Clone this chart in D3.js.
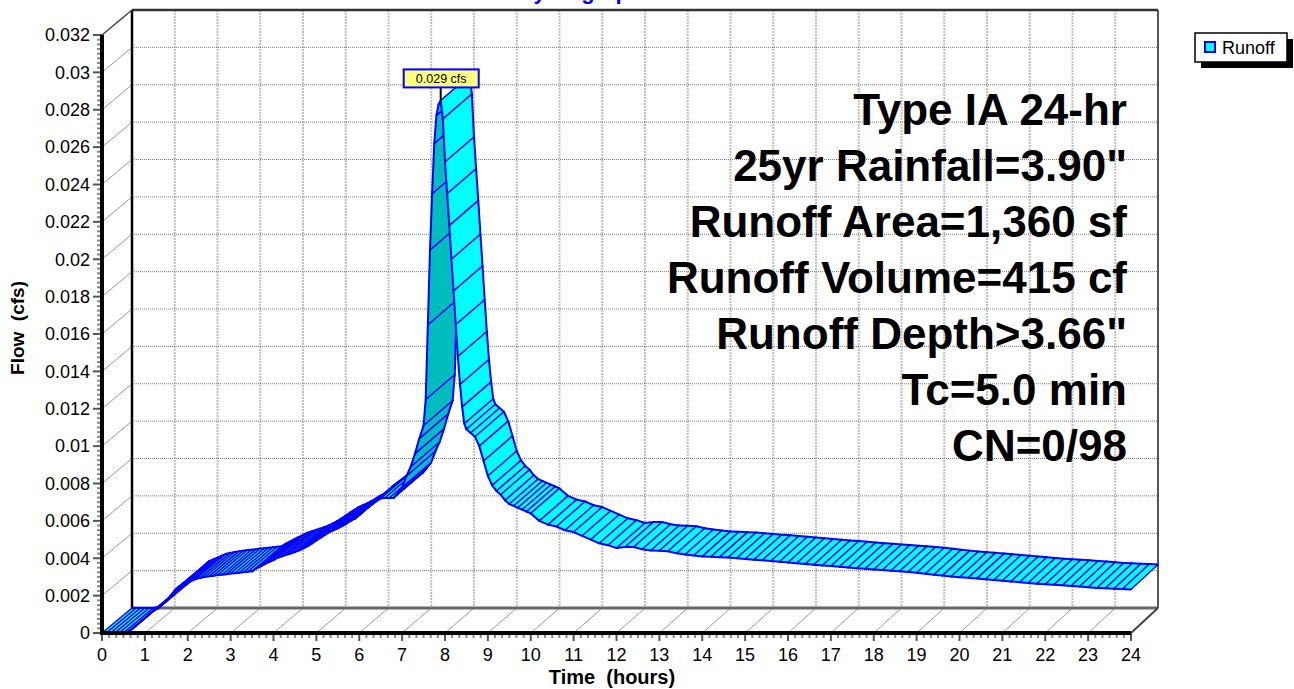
<!DOCTYPE html>
<html><head><meta charset="utf-8">
<script src="https://cdn.jsdelivr.net/npm/d3@7"></script>
<style>body{margin:0;background:#fff;overflow:hidden}svg{display:block;font-family:Arial,"Liberation Sans",sans-serif}</style>
</head><body><svg id="c" width="1294" height="689"></svg>
<script>
// ---------- data ----------
const times = [0,0.1,0.2,0.3,0.4,0.5,0.6,0.7,0.8,0.9,1.0,1.1,1.2,1.3,1.4,1.5,1.6,1.7,1.8,1.9,
2.0,2.1,2.2,2.3,2.4,2.5,2.6,2.7,2.8,2.9,3.0,3.1,3.2,3.3,3.4,3.5,3.6,3.7,3.8,3.9,
4.0,4.1,4.2,4.3,4.4,4.5,4.6,4.7,4.8,4.9,5.0,5.1,5.2,5.3,5.4,5.5,5.6,5.7,5.8,5.9,
6.0,6.1,6.2,6.3,6.4,6.5,6.6,6.7,6.8,6.9,7.0,7.1,7.2,7.3,7.4,7.5,
7.55,7.6,7.65,7.7,7.75,7.8,7.85,7.9,7.95,8.0,8.05,8.1,8.15,8.2,8.25,8.3,8.35,8.4,8.45,8.5,
8.6,8.7,8.8,8.9,9.0,9.1,9.2,9.3,9.4,9.5,9.6,9.7,9.8,9.9,10.0,
10.2,10.4,10.6,10.8,11.0,11.2,11.4,11.6,11.8,12.0,12.2,12.4,12.6,12.8,13.0,13.2,13.4,13.6,13.8,14.0,
14.2,14.4,14.6,14.8,15.0,15.2,15.4,15.6,15.8,16.0,16.2,16.4,16.6,16.8,17.0,17.2,17.4,17.6,17.8,18.0,
18.2,18.4,18.6,18.8,19.0,19.2,19.4,19.6,19.8,20.0,20.2,20.4,20.6,20.8,21.0,21.2,21.4,21.6,21.8,22.0,
22.2,22.4,22.6,22.8,23.0,23.2,23.4,23.6,23.8,24.0];
const flows = [0,0,0,0,0,0,0.00005,0.0002,0.0004,0.0006,0.0008,0.001,0.0012,0.0013,0.0015,0.0017,0.002,0.0023,0.0025,0.0026,
0.0027,0.0028,0.0029,0.00295,0.003,0.00303,0.00306,0.0031,0.00312,0.00315,0.00318,0.0032,0.00322,0.00325,0.00328,0.0033,0.00345,0.00356,0.00368,0.0038,
0.0039,0.00403,0.0041,0.00418,0.00425,0.00433,0.00442,0.00453,0.00465,0.0048,0.00495,0.0051,0.00525,0.0054,0.0055,0.0056,0.00572,0.00585,0.006,0.00612,
0.0063,0.00652,0.0067,0.00688,0.00705,0.0072,0.00722,0.00722,0.00722,0.0075,0.0078,0.0084,0.0089,0.0096,0.0104,0.0111,
0.0125,0.0165,0.0205,0.0235,0.0262,0.0277,0.0283,0.0285,0.0275,0.0252,0.0235,0.0218,0.02,0.0183,0.0165,0.0148,0.0133,0.0121,0.0112,0.0109,
0.0107,0.0105,0.01,0.0092,0.0084,0.0079,0.0076,0.0074,0.0071,0.0069,0.0068,0.0067,0.0066,0.0065,0.0064,
0.006,0.0058,0.0057,0.0055,0.0054,0.0052,0.005,0.0048,0.0047,0.00455,0.0046,0.0046,0.00448,0.00442,0.0044,0.00437,0.00427,0.0042,0.00415,0.0041,
0.00408,0.00406,0.00404,0.004,0.00396,0.00392,0.00389,0.00385,0.00381,0.00377,0.00373,0.00369,0.00365,0.00361,0.00358,0.00354,0.0035,0.00347,0.00344,0.0034,
0.00337,0.00333,0.0033,0.00326,0.00322,0.00317,0.00312,0.00307,0.00302,0.00298,0.00295,0.00291,0.00288,0.00284,0.0028,0.00276,0.00272,0.00268,0.00264,0.00261,
0.00258,0.00255,0.00252,0.00249,0.00245,0.00241,0.00239,0.00237,0.00235,0.00233];
const xTicks = [0,1,2,3,4,5,6,7,8,9,10,11,12,13,14,15,16,17,18,19,20,21,22,23,24];
const yTicks = [0,0.002,0.004,0.006,0.008,0.01,0.012,0.014,0.016,0.018,0.02,0.022,0.024,0.026,0.028,0.03,0.032];
const yTickLabels = ["0","0.002","0.004","0.006","0.008","0.01","0.012","0.014","0.016","0.018","0.02","0.022","0.024","0.026","0.028","0.03","0.032"];
const annotation = ["Type IA 24-hr","25yr Rainfall=3.90\"","Runoff Area=1,360 sf","Runoff Volume=415 cf","Runoff Depth>3.66\"","Tc=5.0 min","CN=0/98"];
const peakLabel = "0.029 cfs";
const seriesName = "Runoff";
const titleText = "Hydrograph";
const xTitle = "Time  (hours)";
const yTitle = "Flow  (cfs)";

// ---------- scales (front plane and back plane) ----------
const xF = d3.scaleLinear().domain([0,24]).range([102,1131]);
const xB = d3.scaleLinear().domain([0,24]).range([132,1158]);
const yF = d3.scaleLinear().domain([0,0.032]).range([633,35]);
const yB = d3.scaleLinear().domain([0,0.032]).range([608,10]);

const svg = d3.select("#c");
svg.append("rect").attr("width",1294).attr("height",689).attr("fill","#fff");

// back wall grid
const g = svg.append("g");
g.selectAll(".vg").data(xTicks.slice(1,-1)).enter().append("line")
  .attr("x1",d=>xB(d)).attr("x2",d=>xB(d)).attr("y1",yB(0.032)).attr("y2",yB(0))
  .attr("stroke","#c0c0c0").attr("stroke-width",2).attr("stroke-dasharray","2,1");
g.selectAll(".hg").data(yTicks.slice(1,-1)).enter().append("line")
  .attr("x1",xB(0)).attr("x2",xB(24)).attr("y1",d=>yB(d)).attr("y2",d=>yB(d))
  .attr("stroke","#7a7a7a").attr("stroke-width",1).attr("stroke-dasharray","1,1");
g.selectAll(".lw").data(yTicks.slice(1,-1)).enter().append("line")
  .attr("x1",xF(0)).attr("y1",d=>yF(d)).attr("x2",xB(0)).attr("y2",d=>yB(d))
  .attr("stroke","#999").attr("stroke-width",1);
g.selectAll(".fl").data(xTicks.slice(1,-1)).enter().append("line")
  .attr("x1",d=>xF(d)).attr("y1",yF(0)).attr("x2",d=>xB(d)).attr("y2",yB(0))
  .attr("stroke","#999").attr("stroke-width",1);
g.append("line").attr("x1",xB(0)).attr("x2",xB(24)).attr("y1",yB(0)).attr("y2",yB(0)).attr("stroke","#666").attr("stroke-width",3);
g.append("line").attr("x1",xB(24)).attr("x2",xB(24)).attr("y1",yB(0.032)).attr("y2",yB(0)).attr("stroke","#555").attr("stroke-width",2);
g.append("line").attr("x1",xB(0)).attr("x2",xB(24)).attr("y1",yB(0.032)).attr("y2",yB(0.032)).attr("stroke","#333").attr("stroke-width",2.5);
g.append("line").attr("x1",xB(0)).attr("x2",xB(0)).attr("y1",yB(0.032)).attr("y2",yB(0)).attr("stroke","#000").attr("stroke-width",2.5);
g.append("line").attr("x1",xF(0)).attr("y1",yF(0.032)).attr("x2",xB(0)).attr("y2",yB(0.032)).attr("stroke","#444").attr("stroke-width",1.5);
g.append("line").attr("x1",xF(24)).attr("y1",yF(0)).attr("x2",xB(24)).attr("y2",yB(0)).attr("stroke","#444").attr("stroke-width",2);

// ribbon (painter order: each segment face with its own edges)
const pts = times.map((t,i)=>({t,v:flows[i]}));
const quads = [];
for(let i=0;i<pts.length-1;i++){
  const a=pts[i], b=pts[i+1];
  const F0=[xF(a.t),yF(a.v)], F1=[xF(b.t),yF(b.v)], B1=[xB(b.t),yB(b.v)], B0=[xB(a.t),yB(a.v)];
  const sx=F1[0]-F0[0], sy=F1[1]-F0[1], dx=B0[0]-F0[0], dy=B0[1]-F0[1];
  quads.push({F0,F1,B1,B0, top: (sx*dy - sy*dx)<=0});
}
const qg = svg.append("g").selectAll("g").data(quads).enter().append("g");
qg.append("path")
  .attr("d",d=>"M"+[d.F0,d.F1,d.B1,d.B0].map(q=>q.join(",")).join("L")+"Z")
  .attr("fill",d=>d.top?"#00ffff":"#00bdbd").attr("stroke","#00ffff").attr("stroke-width",0.3)
  .attr("stroke",d=>d.top?"#00ffff":"#00bdbd");
qg.append("path")
  .attr("d",d=>"M"+d.F0.join(",")+"L"+d.B0.join(",")+"M"+d.F1.join(",")+"L"+d.B1.join(","))
  .attr("stroke","#0000ff").attr("stroke-width",1.4).attr("fill","none");
qg.append("path")
  .attr("d",d=>"M"+d.F0.join(",")+"L"+d.F1.join(",")+"M"+d.B0.join(",")+"L"+d.B1.join(","))
  .attr("stroke","#0000ff").attr("stroke-width",2).attr("fill","none").attr("stroke-linecap","round");

// front axes
const ax = svg.append("g");
const yMinor = [];
for(let i=0;i<yTicks.length-1;i++){for(let k=1;k<8;k++){yMinor.push(yTicks[i]+(yTicks[i+1]-yTicks[i])*k/8);}}
ax.selectAll(".ymn").data(yMinor).enter().append("line")
  .attr("x1",97).attr("x2",102).attr("y1",d=>yF(d)).attr("y2",d=>yF(d))
  .attr("stroke","#888").attr("stroke-width",2);
ax.selectAll(".ymj").data(yTicks).enter().append("line")
  .attr("x1",93).attr("x2",102).attr("y1",d=>yF(d)).attr("y2",d=>yF(d))
  .attr("stroke","#555").attr("stroke-width",2);
const xMinor = [];
for(let i=0;i<xTicks.length-1;i++){for(let k=1;k<6;k++){xMinor.push(xTicks[i]+k/6);}}
ax.selectAll(".xmn").data(xMinor).enter().append("line")
  .attr("y1",633).attr("y2",638).attr("x1",d=>xF(d)).attr("x2",d=>xF(d))
  .attr("stroke","#888").attr("stroke-width",2);
ax.selectAll(".xmj").data(xTicks).enter().append("line")
  .attr("y1",633).attr("y2",641).attr("x1",d=>xF(d)).attr("x2",d=>xF(d))
  .attr("stroke","#555").attr("stroke-width",2);
ax.append("line").attr("x1",xF(0)).attr("x2",xF(0)).attr("y1",yF(0.032)).attr("y2",yF(0)+2).attr("stroke","#000").attr("stroke-width",4);
ax.append("line").attr("x1",xF(0)-2).attr("x2",xF(24)).attr("y1",yF(0)).attr("y2",yF(0)).attr("stroke","#000").attr("stroke-width",4);

ax.selectAll(".yl").data(yTicks).enter().append("text")
  .attr("x",90).attr("y",d=>yF(d)).attr("dy","0.35em").attr("text-anchor","end")
  .attr("font-size",18).attr("fill","#000").text((d,i)=>yTickLabels[i]);
ax.selectAll(".xl").data(xTicks).enter().append("text")
  .attr("x",d=>xF(d)).attr("y",661).attr("text-anchor","middle")
  .attr("font-size",18).attr("fill","#000").text(d=>d);

// axis titles
svg.append("text").attr("transform","translate(24,328) rotate(-90)").attr("text-anchor","middle")
  .attr("font-size",19).attr("font-weight","bold").style("white-space","pre").text(yTitle);
svg.append("text").attr("x",612).attr("y",684).attr("text-anchor","middle")
  .attr("font-size",20).attr("font-weight","bold").style("white-space","pre").text(xTitle);

// annotation
svg.append("g").selectAll("text").data(annotation).enter().append("text")
  .attr("x",1127).attr("y",(d,i)=>125+i*56).attr("text-anchor","end")
  .attr("font-size",44).attr("font-weight","bold").attr("fill","#000").text(d=>d);

// peak label
let pi = d3.maxIndex(flows);
const px = xF(times[pi]), py = yF(flows[pi]);
svg.append("line").attr("x1",px).attr("x2",px).attr("y1",py-14).attr("y2",py).attr("stroke","#000").attr("stroke-width",2);
svg.append("rect").attr("x",px-37).attr("y",py-31).attr("width",75).attr("height",18)
  .attr("fill","#ffff80").attr("stroke","#0000ff").attr("stroke-width",2);
svg.append("text").attr("x",px+0.5).attr("y",py-17.5).attr("text-anchor","middle").attr("font-size",12.5).text(peakLabel);

// legend
svg.append("rect").attr("x",1201).attr("y",39).attr("width",92).attr("height",29).attr("fill","#000");
svg.append("rect").attr("x",1195).attr("y",33).attr("width",92).attr("height",29).attr("fill","#fff").attr("stroke","#000").attr("stroke-width",1.5);
svg.append("rect").attr("x",1205).attr("y",42).attr("width",10).attr("height",10).attr("fill","#00ffff").attr("stroke","#0000ff").attr("stroke-width",2);
svg.append("text").attr("x",1222).attr("y",54).attr("font-size",18).text(seriesName);

// title (mostly clipped at top, as in the reference)
svg.append("text").attr("x",580).attr("y",-1.5).attr("text-anchor","middle").attr("font-size",22)
  .attr("font-weight","bold").attr("fill","#0000ff").text(titleText);
</script></body></html>
